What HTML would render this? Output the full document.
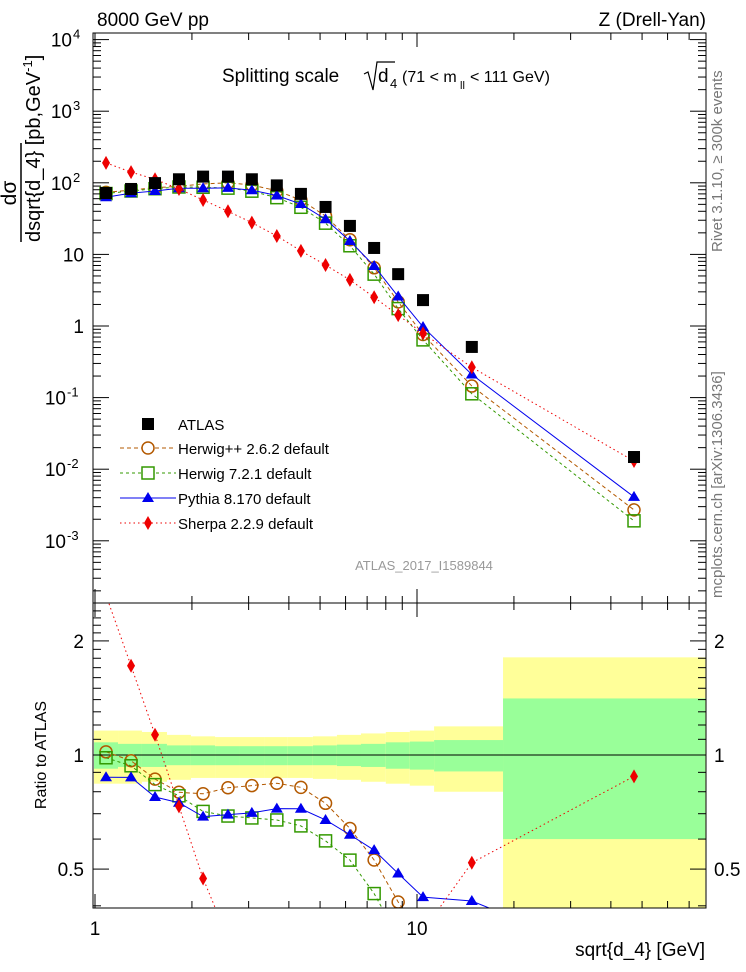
<!DOCTYPE html>
<html><head><meta charset="utf-8"><style>
html,body{margin:0;padding:0;background:#fff;overflow:hidden;width:746px;height:972px;}
svg{display:block;font-family:"Liberation Sans",sans-serif;}
</style></head><body>
<div style="position:relative;width:746px;height:972px;">
<svg id="c" width="746" height="972" style="position:absolute;left:0;top:0" xmlns="http://www.w3.org/2000/svg"></svg>
<svg width="746" height="972" style="position:absolute;left:0;top:0" font-family="Liberation Sans, sans-serif">
<text x="97" y="26" font-size="19">8000 GeV pp</text>
<text x="706" y="26" font-size="19" text-anchor="end">Z (Drell-Yan)</text>
<g font-size="19">
<text x="222" y="82">Splitting scale</text>
<path d="M364 74 l4 -2 l5 18 l4 -28 h18" fill="none" stroke="#000" stroke-width="1.2"/>
<text x="378" y="82">d</text><text x="390" y="88" font-size="13">4</text>
<text x="402" y="82" font-size="16">(71 &lt; m</text><text x="460" y="89" font-size="11">ll</text><text x="470" y="82" font-size="16">&lt; 111 GeV)</text>
</g>
<text x="705" y="956" font-size="19" text-anchor="end">sqrt{d_4} [GeV]</text>
<g>
<text transform="translate(16,193) rotate(-90)" font-size="21" text-anchor="middle">dσ</text>
<line x1="21" x2="21" y1="143" y2="242" stroke="#000" stroke-width="1.5"/>
<text transform="translate(40,242) rotate(-90)" font-size="20">dsqrt{d_4} [pb,GeV<tspan dy="-8" font-size="13">-1</tspan><tspan dy="8">]</tspan></text>
</g>
<text transform="translate(46,755) rotate(-90)" font-size="16" text-anchor="middle">Ratio to ATLAS</text>
<text transform="translate(722,252) rotate(-90)" font-size="15" fill="#777">Rivet 3.1.10, ≥ 300k events</text>
<text transform="translate(722,598) rotate(-90)" font-size="15" fill="#777">mcplots.cern.ch [arXiv:1306.3436]</text>
<text x="424" y="570" font-size="13" fill="#999" text-anchor="middle">ATLAS_2017_I1589844</text>
<g font-size="15">
<g><rect x="142" y="418" width="12" height="12" fill="#000"/><text x="178" y="430">ATLAS</text></g>
<g><line x1="120" x2="176" y1="448" y2="448" stroke="#b35900" stroke-dasharray="4,3"/><circle cx="148" cy="448" r="6" fill="#fff" stroke="#b35900" stroke-width="1.5"/><text x="178" y="454">Herwig++ 2.6.2 default</text></g>
<g><line x1="120" x2="176" y1="473" y2="473" stroke="#339900" stroke-dasharray="3,3"/><rect x="142" y="467" width="12" height="12" fill="#fff" stroke="#339900" stroke-width="1.5"/><text x="178" y="479">Herwig 7.2.1 default</text></g>
<g><line x1="120" x2="176" y1="498" y2="498" stroke="#0000ee"/><polygon points="148,492 142,502 154,502" fill="#0000ee"/><text x="178" y="504">Pythia 8.170 default</text></g>
<g><line x1="120" x2="176" y1="523" y2="523" stroke="#ee0000" stroke-dasharray="1.5,3"/><polygon points="148,516 144,523 148,530 152,523" fill="#ee0000"/><text x="178" y="529">Sherpa 2.2.9 default</text></g>
</g>
</svg>
</div>
<script>
const xs=[1.082,1.294,1.536,1.823,2.166,2.588,3.07,3.67,4.36,5.2,6.19,7.36,8.74,10.44,14.8,47.2];
const binEdges=[0.993,1.179,1.399,1.673,1.986,2.36,2.82,3.35,3.97,4.75,5.64,6.70,8.0,9.5,11.3,18.5,78.6];
const atlas=[72,82,99,112,122,122,112,92,70,46,25,12.3,5.3,2.3,0.51,0.0148];
const herwigpp=[73.4,79.2,85.5,89.3,96.4,100,93,77.5,57.5,34.3,16,6.5,2.17,0.76,0.145,0.0027];
const herwig7=[70.8,76.8,82.7,87.4,86.6,84.2,76.4,62,45.5,27.3,13.2,5.3,1.75,0.64,0.113,0.0019];
const pythia=[62.9,71.6,76.7,83.8,83.9,84.9,78.8,66.4,50.5,31,15.4,6.9,2.58,0.97,0.21,0.0041];
const sherpa=[190,141,112,82,57.6,40,27.8,18.1,11.2,7.1,4.4,2.52,1.42,0.79,0.265,0.013];
const yellowUp=[1.16,1.16,1.15,1.13,1.12,1.115,1.115,1.115,1.115,1.12,1.13,1.14,1.15,1.16,1.19,1.81];
const yellowDn=[0.84,0.84,0.85,0.86,0.87,0.87,0.87,0.87,0.87,0.865,0.86,0.85,0.84,0.83,0.80,0.30];
const greenUp=[1.08,1.07,1.07,1.06,1.06,1.055,1.055,1.055,1.055,1.06,1.065,1.07,1.08,1.085,1.095,1.41];
const greenDn=[0.92,0.93,0.93,0.94,0.94,0.94,0.94,0.94,0.94,0.94,0.935,0.93,0.92,0.915,0.905,0.60];
const topTicks=[-3,-2,-1,0,1,2,3,4];
const ratioTicks=[2,1,0.5];

const NS="http://www.w3.org/2000/svg";
const svg=document.getElementById('c');
const L=93,R=706,T=33,M=603,B=908;
const X=v=>95+322*Math.log10(v);
const Y=v=>326-71.6*Math.log10(v);
const YR=v=>755-379*Math.log10(v);
function el(tag,attrs,parent){const e=document.createElementNS(NS,tag);for(const k in attrs)e.setAttribute(k,attrs[k]);(parent||svg).appendChild(e);return e;}
function txt(s,attrs,parent){const e=el('text',attrs,parent);e.textContent=s;return e;}

const defs=el('defs',{});
const cp1=el('clipPath',{id:'ct'},defs);el('rect',{x:L,y:T,width:R-L,height:M-T},cp1);
const cp2=el('clipPath',{id:'cb'},defs);el('rect',{x:L,y:M,width:R-L,height:B-M},cp2);

const bands=el('g',{'clip-path':'url(#cb)'});


for(let i=0;i<xs.length;i++){
  const x0=X(binEdges[i]),x1=X(binEdges[i+1]);
  const ry=el('rect',{x:x0,y:YR(yellowUp[i]),width:x1-x0,height:YR(yellowDn[i])-YR(yellowUp[i]),fill:'#ffff99'},bands);
  
  
  const rg=el('rect',{x:x0,y:YR(greenUp[i]),width:x1-x0,height:YR(greenDn[i])-YR(greenUp[i]),fill:'#99ff99'},bands);
  
  
}
el('line',{x1:L,x2:R,y1:YR(1),y2:YR(1),stroke:'#000','stroke-width':1});

const series=[
 {name:'herwigpp',vals:herwigpp,color:'#b35900',dash:'4,3',marker:'circle'},
 {name:'herwig7',vals:herwig7,color:'#339900',dash:'3,3',marker:'square'},
 {name:'pythia',vals:pythia,color:'#0000ee',dash:'',marker:'triangle'},
 {name:'sherpa',vals:sherpa,color:'#ee0000',dash:'1.5,3',marker:'diamond'}
];
function marker(type,x,y,color,g){
  let m;
  if(type==='circle')m=el('circle',{cx:x,cy:y,r:6,fill:'none',stroke:color,'stroke-width':1.5},g);
  else if(type==='square')m=el('rect',{x:x-6,y:y-6,width:12,height:12,fill:'none',stroke:color,'stroke-width':1.5},g);
  else if(type==='triangle')m=el('polygon',{points:`${x},${y-6} ${x-6},${y+4} ${x+6},${y+4}`,fill:color},g);
  else if(type==='diamond')m=el('polygon',{points:`${x},${y-7} ${x-4},${y} ${x},${y+7} ${x+4},${y}`,fill:color},g);
  else m=el('rect',{x:x-6,y:y-6,width:12,height:12,fill:color},g);
  return m;
}
function drawSeries(s,panel){
  const g=el('g',{'clip-path':panel==='top'?'url(#ct)':'url(#cb)'});
  
  
  const pts=s.vals.map((v,i)=>[X(xs[i]),panel==='top'?Y(v):YR(v/atlas[i])]);
  const pl=el('polyline',{points:pts.map(p=>p.join(',')).join(' '),fill:'none',stroke:s.color,'stroke-width':1,'stroke-dasharray':s.dash},g);
  
  
  pts.forEach(p=>{const m=marker(s.marker,p[0],p[1],s.color,g);
    
    });
}
series.forEach(s=>{drawSeries(s,'top');drawSeries(s,'bottom');});
const ga=el('g',{'clip-path':'url(#ct)'});


atlas.forEach((v,i)=>{const m=marker('sq',X(xs[i]),Y(v),'#000',ga);
  
  });

el('rect',{x:L,y:T,width:R-L,height:M-T,fill:'none',stroke:'#000','stroke-width':1});
el('rect',{x:L,y:M,width:R-L,height:B-M,fill:'none',stroke:'#000','stroke-width':1});

const tk=el('g',{stroke:'#000','stroke-width':1});
for(let d=0;d<2;d++)for(let k=1;k<10;k++){
  const v=k*Math.pow(10,d);const x=X(v);if(x<L||x>R)continue;
  const len=k===1?14:7;
  el('line',{x1:x,x2:x,y1:M,y2:M-len},tk);el('line',{x1:x,x2:x,y1:T,y2:T+len},tk);
  el('line',{x1:x,x2:x,y1:B,y2:B-len},tk);el('line',{x1:x,x2:x,y1:M,y2:M+len},tk);
}
for(let e=-4;e<=4;e++)for(let k=1;k<10;k++){
  const y=Y(k*Math.pow(10,e));if(y<T||y>M)continue;
  const len=k===1?16:8;
  el('line',{x1:L,x2:L+len,y1:y,y2:y},tk);el('line',{x1:R,x2:R-len,y1:y,y2:y},tk);
}
for(let v=0.4;v<=2.5;v+=0.1){const y=YR(v);if(y<M||y>B)continue;
  const major=Math.abs(v-0.5)<1e-6||Math.abs(v-1)<1e-6||Math.abs(v-2)<1e-6;const len=major?16:8;
  el('line',{x1:L,x2:L+len,y1:y,y2:y},tk);el('line',{x1:R,x2:R-len,y1:y,y2:y},tk);}

const labs=el('g',{'font-size':19,fill:'#000'});
topTicks.forEach(e=>{
  const y=Y(Math.pow(10,e))+7;
  let t;
  if(e===0)t=txt('1',{x:84,y:y,'text-anchor':'end'},labs);
  else if(e===1)t=txt('10',{x:84,y:y,'text-anchor':'end'},labs);
  else{t=txt('10',{x:e<0?66:72,y:y,'text-anchor':'end'},labs);
    const sp=el('tspan',{dy:-8,'font-size':13,x:e<0?67:73,'text-anchor':'start'},t);sp.textContent=String(e);}
  
  
});
ratioTicks.forEach(v=>{
  const y=YR(v)+7;
  const a=txt(String(v),{x:84,y:y,'text-anchor':'end'},labs);
  
  
  const b=txt(String(v),{x:714,y:y},labs);
  
  
});
[1,10].forEach(v=>{const t=txt(String(v),{x:X(v),y:935,'text-anchor':'middle'},labs);
  
  });
</script>
</body></html>
